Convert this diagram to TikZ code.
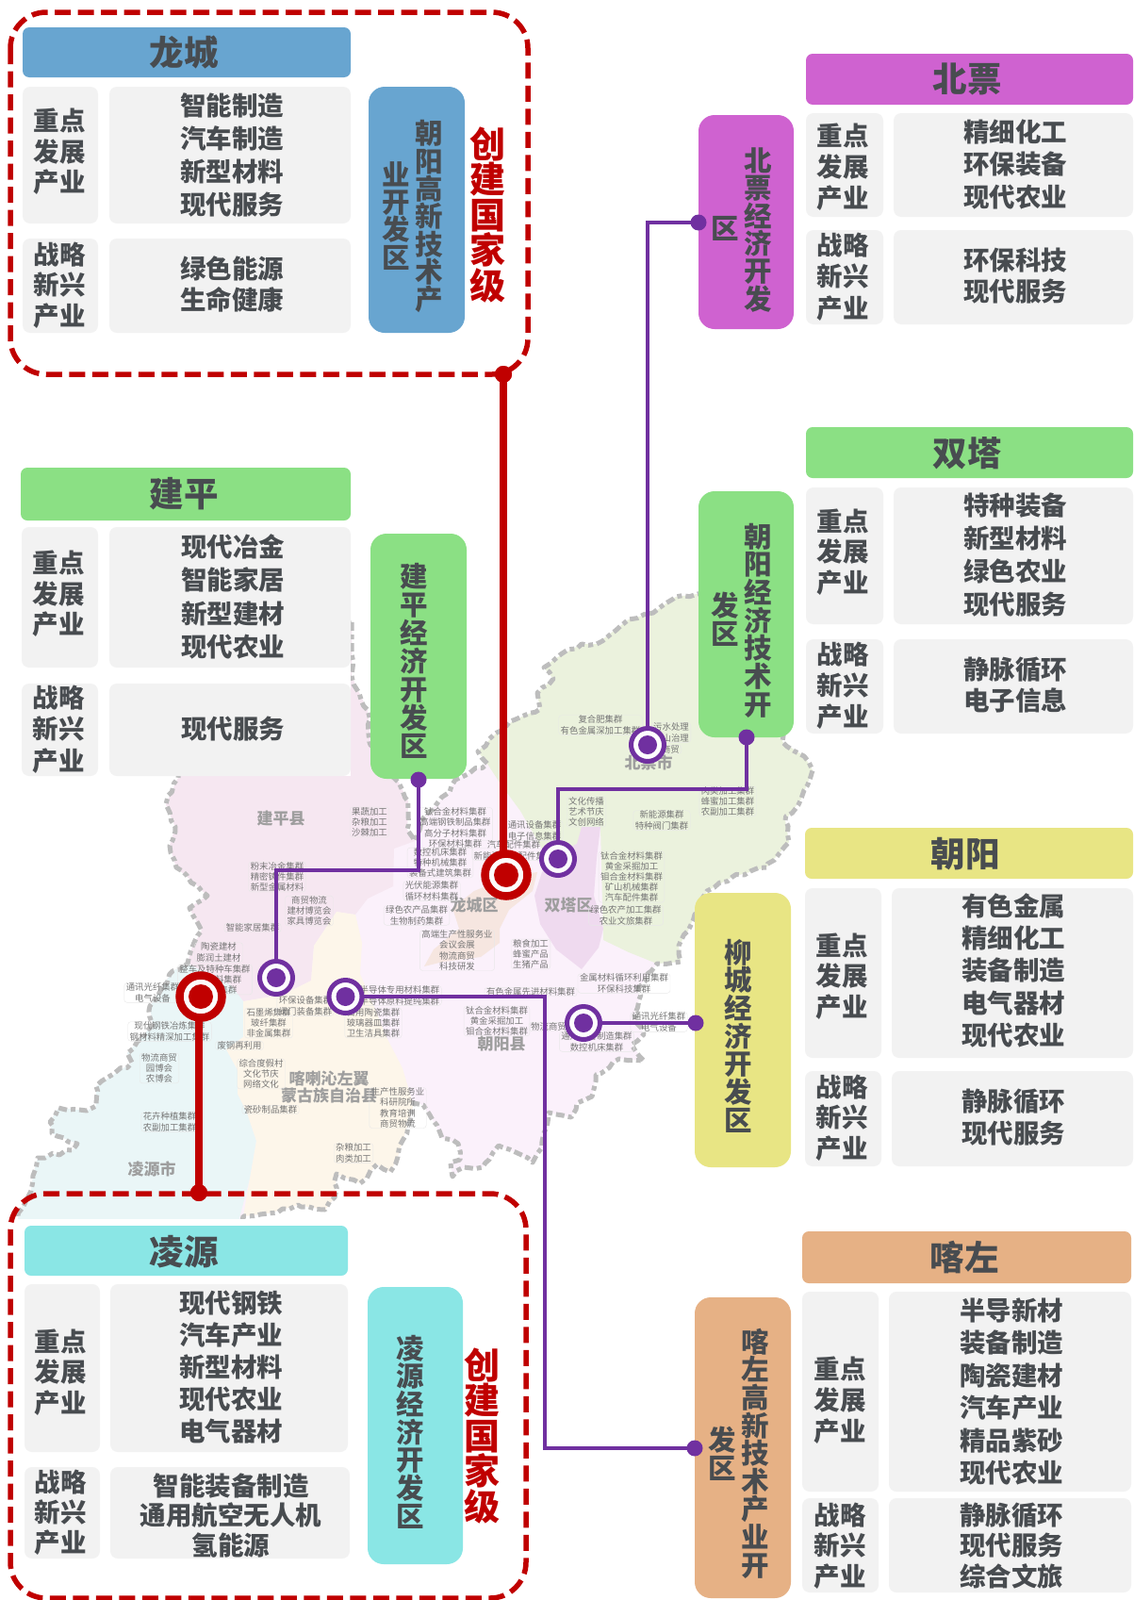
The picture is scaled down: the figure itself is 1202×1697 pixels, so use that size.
\documentclass[tikz,border=0pt]{standalone}
\usepackage{fontspec}
\setmainfont{Noto Sans CJK SC}
\usetikzlibrary{decorations.pathmorphing}
\lineskiplimit=-100pt
\definecolor{cBlue}{HTML}{68A5D0}
\definecolor{cGreen}{HTML}{8BE084}
\definecolor{cMag}{HTML}{CF62D0}
\definecolor{cYel}{HTML}{E8E584}
\definecolor{cOra}{HTML}{E6B185}
\definecolor{cCya}{HTML}{8AE6E5}
\definecolor{cBox}{HTML}{F2F2F2}
\definecolor{cRed}{HTML}{C00000}
\definecolor{cPur}{HTML}{7030A0}
\definecolor{cInk}{HTML}{484C50}
\definecolor{cMapLine}{HTML}{BDBDBD}
\definecolor{cChip}{HTML}{767676}
\definecolor{mBase}{HTML}{FBF1FB}
\definecolor{mJp}{HTML}{F6E7F1}
\definecolor{mBp}{HTML}{EBF2DD}
\definecolor{mLy}{HTML}{EAF6F7}
\definecolor{mKz}{HTML}{FDF6EA}
\definecolor{mLc}{HTML}{F6E6E0}
\definecolor{mSt}{HTML}{EFDAEF}
\tikzset{
  pbox/.style={rectangle,inner sep=0pt,outer sep=0pt,draw=none},
  hdrbox/.style={pbox,rounded corners=7pt},
  keybox/.style={pbox,fill=cBox,rounded corners=8pt},
  labbox/.style={pbox,rounded corners=17pt},
  txtbase/.style={inner sep=0pt,outer sep=0pt,align=center,text=cInk},
  hdrtxt/.style={txtbase,font=\bfseries\fontsize{36.5}{38}\selectfont},
  itm/.style={txtbase,font=\bfseries\fontsize{27.5}{#1}\selectfont},
  col/.style={txtbase,font=\bfseries\fontsize{29.5}{#1}\selectfont},
  redcol/.style={txtbase,text=cRed,font=\bfseries\fontsize{38}{37.5}\selectfont},
  chip/.style={rounded corners=3pt,draw=black!9,inner xsep=2pt,inner ysep=0pt,align=center,text=cChip,font=\fontsize{9.4}{11.2}\selectfont},
  place/.style={inner sep=0pt,align=center,text=black!38,font=\bfseries\fontsize{17}{18}\selectfont},
  dotp/.style={circle,fill=cPur,inner sep=0pt,outer sep=0pt,minimum size=17pt},
  dotr/.style={circle,fill=cRed,inner sep=0pt,outer sep=0pt,minimum size=18pt},
  ringp/.style={circle,draw=cPur,line width=5pt,fill=white!85!black!5,inner sep=0pt,outer sep=0pt,minimum size=35pt},
  coreP/.style={circle,fill=cPur,inner sep=0pt,outer sep=0pt,minimum size=20pt},
  ringr/.style={circle,draw=cRed,line width=8.5pt,fill=white!85!black!8,inner sep=0pt,outer sep=0pt,minimum size=45pt},
  coreR/.style={circle,fill=cRed,inner sep=0pt,outer sep=0pt,minimum size=26pt},
  purline/.style={draw=cPur,line width=4.5pt,line join=miter},
  redline/.style={draw=cRed,line width=8pt},
  reddash/.style={draw=cRed,line width=5.5pt,dash pattern=on 17pt off 7.5pt,rounded corners=38pt},
  mapline/.style={draw=cMapLine,line width=5pt,line join=round,dash pattern=on 9pt off 4pt on 5pt off 4pt,
    decorate,decoration={random steps,segment length=8pt,amplitude=2pt}}
}
\newcommand\bx[6]{%
  \pgfmathsetmacro\myW{#4-#2}\pgfmathsetmacro\myH{#5-#3}%
  \pgfmathsetmacro\myX{(#2+#4)/2}\pgfmathsetmacro\myY{(#3+#5)/2}%
  \node[#6,minimum width=\myW pt,minimum height=\myH pt] (#1) at (\myX,\myY) {};}
\newcommand\tx[5]{\node[#4] (#1) at (#2,#3) {\rule[-.12em]{0pt}{1em}#5\rule[-.12em]{0pt}{1em}};}
\newcommand\mapoutline{(373,660)--(373,717)--(381,735)--(390,753)--(393,790)--(423,830)--(433,850)--(432,880)--(440,892)--(447,870)--(463,853)--(477,840)--(483,827)--(517,810)--(507,797)--(527,777)--(547,763)--(573,752)--(570,735)--(587,720)--(577,708)--(590,698)--(617,683)--(633,683)--(667,657)--(693,650)--(717,633)--(740,630)--(760,625)--(830,760)--(830,787)--(853,802)--(862,817)--(850,847)--(833,870)--(837,893)--(813,920)--(777,930)--(750,945)--(737,970)--(730,987)--(720,1003)--(722,1020)--(697,1022)--(677,1048)--(678,1060)--(673,1077)--(683,1097)--(670,1108)--(683,1125)--(657,1123)--(632,1140)--(628,1163)--(612,1170)--(606,1185)--(582,1180)--(575,1217)--(565,1233)--(549,1223)--(529,1215)--(512,1238)--(492,1238)--(480,1248)--(478,1233)--(488,1230)--(486,1213)--(469,1207)--(459,1188)--(449,1172)--(439,1170)--(428,1208)--(422,1227)--(414,1243)--(400,1235)--(382,1255)--(357,1245)--(355,1270)--(345,1283)--(316,1278)--(284,1287)--(258,1290)--(250,1312)--(19,1312)--(19,1287)--(33,1263)--(35,1247)--(40,1228)--(77,1220)--(82,1213)--(55,1202)--(53,1190)--(62,1175)--(92,1178)--(102,1173)--(102,1152)--(140,1127)--(135,1117)--(162,1087)--(159,1067)--(183,1030)--(199,1022)--(203,1007)--(214,987)--(201,963)--(220,950)--(210,940)--(187,920)--(180,897)--(186,877)--(176,853)--(189,825)--(186,700)--cycle}
\begin{document}
\begin{tikzpicture}[x=1pt,y=-1pt]
\useasboundingbox (0,0) rectangle (1202,1697);
\fill[white] (0,0) rectangle (1202,1697);
% ---------- map
\fill[mBase] \mapoutline;
\fill[mBp] (517,810)--(507,797)--(527,777)--(547,763)--(573,752)--(570,735)--(587,720)--(577,708)--(590,698)--(617,683)--(633,683)--(667,657)--(693,650)--(717,633)--(740,630)--(760,625)--(830,760)--(830,787)--(853,802)--(862,817)--(850,847)--(833,870)--(837,893)--(813,920)--(777,930)--(750,945)--(737,970)--(730,987)--(720,1003)--(722,1020)--(697,1022)--(667,1010)--(640,997)--(637,877)--(612,895)--(590,905)--(575,900)--(552,860)--(530,830)--cycle;
\fill[mJp] (373,660)--(373,717)--(381,735)--(390,753)--(393,790)--(423,830)--(433,850)--(432,880)--(440,892)--(418,900)--(417,940)--(390,953)--(377,970)--(357,967)--(333,1003)--(330,1040)--(300,1055)--(258,1062)--(245,1045)--(199,1022)--(203,1007)--(214,987)--(201,963)--(220,950)--(210,940)--(187,920)--(180,897)--(186,877)--(176,853)--(189,825)--(186,700)--cycle;
\fill[mLy] (183,1030)--(199,1022)--(245,1045)--(258,1062)--(258,1100)--(240,1113)--(252,1135)--(252,1160)--(262,1180)--(272,1210)--(265,1250)--(255,1288)--(250,1312)--(19,1312)--(19,1287)--(33,1263)--(35,1247)--(40,1228)--(77,1220)--(82,1213)--(55,1202)--(53,1190)--(62,1175)--(92,1178)--(102,1173)--(102,1152)--(140,1127)--(135,1117)--(162,1087)--(159,1067)--cycle;
\fill[mKz] (258,1062)--(300,1055)--(330,1040)--(333,1003)--(357,967)--(377,970)--(384,1000)--(382,1033)--(402,1080)--(410,1100)--(427,1133)--(437,1167)--(439,1170)--(428,1208)--(422,1227)--(414,1243)--(400,1235)--(382,1255)--(357,1245)--(355,1270)--(345,1283)--(316,1278)--(284,1287)--(258,1290)--(265,1250)--(272,1210)--(262,1180)--(252,1160)--(252,1135)--(240,1113)--(258,1100)--cycle;
\fill[mLc] (450,1025)--(460,1007)--(487,985)--(480,963)--(503,945)--(540,930)--(570,925)--(565,945)--(540,965)--(530,985)--(530,1000)--(510,1015)--(470,1020)--cycle;
\fill[mSt] (617,877)--(637,877)--(633,910)--(630,950)--(640,985)--(635,1005)--(617,1028)--(590,1007)--(573,980)--(567,950)--(575,925)--(590,905)--(612,895)--cycle;
\draw[mapline] \mapoutline;
% ---------- map labels
\tx{pl-jp}{298}{868}{place}{建平县}
\tx{pl-lc}{503}{960}{place}{龙城区}
\tx{pl-st}{603}{960}{place}{双塔区}
\tx{pl-bp}{688}{809}{place}{北票市}
\tx{pl-cy}{532}{1107}{place}{朝阳县}
\tx{pl-ly}{161}{1240}{place}{凌源市}
\tx{pl-kz}{349}{1153}{place}{喀喇沁左翼\\蒙古族自治县}
\tx{c01}{392}{872}{chip}{果蔬加工\\杂粮加工\\沙棘加工}
\tx{c02}{483}{878}{chip}{钛合金材料集群\\高端钢铁制品集群\\高分子材料集群\\环保材料集群}
\tx{c03}{467}{915}{chip}{数控机床集群\\特种机械集群\\装备式建筑集群}
\tx{c04}{458}{945}{chip}{光伏能源集群\\循环材料集群}
\tx{c05}{442}{971}{chip}{绿色农产品集群\\生物制药集群}
\tx{c06}{485}{1008}{chip}{高端生产性服务业\\会议会展\\物流商贸\\科技研发}
\tx{c07}{563}{1012}{chip}{粮食加工\\蜂蜜产品\\生猪产品}
\tx{c08}{294}{930}{chip}{粉末冶金集群\\精密铸件集群\\新型金属材料}
\tx{c09}{328}{966}{chip}{商贸物流\\建材博览会\\家具博览会}
\tx{c10}{268}{984}{chip}{智能家居集群}
\tx{c11}{232}{1010}{chip}{陶瓷建材\\膨润土建材}
\tx{c12}{228}{1039}{chip}{整车及特种车集群\\新型材料集群\\新能源集群}
\tx{c13}{162}{1053}{chip}{通讯光纤集群\\电气设备}
\tx{c14}{180}{1094}{chip}{现代钢铁冶炼集群\\钢材料精深加工集群}
\tx{c15}{169}{1133}{chip}{物流商贸\\园博会\\农博会}
\tx{c16}{180}{1190}{chip}{花卉种植集群\\农副加工集群}
\tx{c17}{285}{1085}{chip}{石墨烯集群\\玻纤集群\\非金属集群}
\tx{c18}{254}{1109}{chip}{废钢再利用}
\tx{c19}{277}{1139}{chip}{综合度假村\\文化节庆\\网络文化}
\tx{c20}{287}{1177}{chip}{瓷砂制品集群}
\tx{c21}{324}{1067}{chip}{环保设备集群\\阀门装备集群}
\tx{c22}{424}{1056}{chip}{半导体专用材料集群\\半导体原料提纯集群}
\tx{c23}{396}{1085}{chip}{日用陶瓷集群\\玻璃器皿集群\\卫生洁具集群}
\tx{c24}{563}{1052}{chip}{有色金属先进材料集群}
\tx{c25}{527}{1083}{chip}{钛合金材料集群\\黄金采掘加工\\钼合金材料集群}
\tx{c26}{582}{1089}{chip}{物流商贸}
\tx{c27}{633}{1105}{chip}{通用设备制造集群\\数控机床集群}
\tx{c28}{662}{1043}{chip}{金属材料循环利用集群\\环保科技集群}
\tx{c29}{699}{1084}{chip}{通讯光纤集群\\电气设备}
\tx{c30}{375}{1223}{chip}{杂粮加工\\肉类加工}
\tx{c31}{422}{1175}{chip}{生产性服务业\\科研院所\\教育培训\\商贸物流}
\tx{c32}{637}{769}{chip}{复合肥集群\\有色金属深加工集群}
\tx{c33}{712}{777}{chip}{污水处理\\矿山治理}
\tx{c34}{702}{795}{chip}{文旅商贸}
\tx{c35}{622}{861}{chip}{文化传播\\艺术节庆\\文创网络}
\tx{c36}{567}{881}{chip}{通讯设备集群\\电子信息集群}
\tx{c37}{545}{902}{chip}{汽车配件集群\\新能源汽车配件集群}
\tx{c38}{772}{850}{chip}{肉类加工集群\\蜂蜜加工集群\\农副加工集群}
\tx{c39}{702}{870}{chip}{新能源集群\\特种阀门集群}
\tx{c40}{670}{930}{chip}{钛合金材料集群\\黄金采掘加工\\钼合金材料集群\\矿山机械集群\\汽车配件集群}
\tx{c41}{664}{971}{chip}{绿色农产加工集群\\农业文旅集群}
% ---------- panel backgrounds that hide the map
\fill[white] (0,490) rectangle (372,823);
\fill[white] (0,1293) rectangle (376,1697);
% ---------- Longcheng
\bx{lc-h}{24}{29}{372}{82}{hdrbox,fill=cBlue}
\tx{lc-ht}{195}{56}{hdrtxt}{龙城}
\bx{lc-k1}{24}{92}{104}{237}{keybox}
\bx{lc-v1}{116}{92}{372}{237}{keybox}
\bx{lc-k2}{24}{253}{104}{353}{keybox}
\bx{lc-v2}{116}{253}{372}{353}{keybox}
\tx{lc-k1t}{63}{161}{itm=32.5}{重点\\发展\\产业}
\tx{lc-v1t}{246}{164.5}{itm=35}{智能制造\\汽车制造\\新型材料\\现代服务}
\tx{lc-k2t}{63}{302.5}{itm=32.5}{战略\\新兴\\产业}
\tx{lc-v2t}{246}{301.5}{itm=33}{绿色能源\\生命健康}
\bx{lc-l}{391}{92}{493}{353}{labbox,fill=cBlue}
\tx{lc-c1}{455}{229.5}{col=29.3}{朝\\阳\\高\\新\\技\\术\\产}
\tx{lc-c2}{420}{229}{col=29.3}{业\\开\\发\\区}
\tx{lc-r}{517}{228}{redcol}{创\\建\\国\\家\\级}
% ---------- Jianping
\bx{jp-h}{22}{496}{372}{552}{hdrbox,fill=cGreen}
\tx{jp-ht}{195}{524}{hdrtxt}{建平}
\bx{jp-k1}{23}{559}{104}{708}{keybox}
\bx{jp-v1}{116}{559}{372}{708}{keybox}
\bx{jp-k2}{23}{725}{104}{823}{keybox}
\bx{jp-v2}{116}{725}{372}{823}{keybox}
\tx{jp-k1t}{62}{630}{itm=32.5}{重点\\发展\\产业}
\tx{jp-v1t}{247}{633}{itm=35.3}{现代冶金\\智能家居\\新型建材\\现代农业}
\tx{jp-k2t}{62}{773.5}{itm=33.5}{战略\\新兴\\产业}
\tx{jp-v2t}{247}{773}{itm=33}{现代服务}
\bx{jp-l}{393}{566}{495}{826}{labbox,fill=cGreen}
\tx{jp-c1}{439}{701.5}{col=30}{建\\平\\经\\济\\开\\发\\区}
% ---------- Lingyuan
\bx{ly-h}{26}{1300}{369}{1353}{hdrbox,fill=cCya}
\tx{ly-ht}{195}{1328}{hdrtxt}{凌源}
\bx{ly-k1}{26}{1362}{106}{1540}{keybox}
\bx{ly-v1}{117}{1362}{369}{1540}{keybox}
\bx{ly-k2}{26}{1556}{106}{1653}{keybox}
\bx{ly-v2}{117}{1556}{371}{1653}{keybox}
\tx{ly-k1t}{64}{1455.5}{itm=32.5}{重点\\发展\\产业}
\tx{ly-v1t}{245}{1450}{itm=34}{现代钢铁\\汽车产业\\新型材料\\现代农业\\电气器材}
\tx{ly-k2t}{64}{1604}{itm=32}{战略\\新兴\\产业}
\tx{ly-v2t}{245}{1607.5}{itm=31.5}{智能装备制造\\通用航空无人机\\氢能源}
\bx{ly-l}{390}{1365}{491}{1659}{labbox,fill=cCya}
\tx{ly-c1}{435.5}{1519}{col=29.7}{凌\\源\\经\\济\\开\\发\\区}
\tx{ly-r}{511}{1523}{redcol}{创\\建\\国\\家\\级}
% ---------- Beipiao
\bx{bp-h}{855}{57}{1202}{111}{hdrbox,fill=cMag}
\tx{bp-ht}{1026}{84}{hdrtxt}{北票}
\bx{bp-k1}{855}{120}{937}{230}{keybox}
\bx{bp-v1}{948}{120}{1202}{230}{keybox}
\bx{bp-k2}{855}{244}{937}{344}{keybox}
\bx{bp-v2}{948}{244}{1202}{344}{keybox}
\tx{bp-k1t}{894}{177}{itm=33}{重点\\发展\\产业}
\tx{bp-v1t}{1077}{174.5}{itm=34.5}{精细化工\\环保装备\\现代农业}
\tx{bp-k2t}{894}{293.5}{itm=33.5}{战略\\新兴\\产业}
\tx{bp-v2t}{1077}{292.5}{itm=33}{环保科技\\现代服务}
\bx{bp-l}{741}{122}{842}{349}{labbox,fill=cMag}
\tx{bp-c1}{804}{243.5}{col=29.4}{北\\票\\经\\济\\开\\发}
\tx{bp-c2}{769}{242}{col=29.4}{区}
% ---------- Shuangta
\bx{st-h}{855}{453}{1202}{507}{hdrbox,fill=cGreen}
\tx{st-ht}{1026}{481}{hdrtxt}{双塔}
\bx{st-k1}{855}{517}{937}{662}{keybox}
\bx{st-v1}{948}{517}{1202}{662}{keybox}
\bx{st-k2}{855}{678}{937}{778}{keybox}
\bx{st-v2}{948}{678}{1202}{778}{keybox}
\tx{st-k1t}{894}{585.5}{itm=32.5}{重点\\发展\\产业}
\tx{st-v1t}{1077}{588.5}{itm=35}{特种装备\\新型材料\\绿色农业\\现代服务}
\tx{st-k2t}{894}{727}{itm=33}{战略\\新兴\\产业}
\tx{st-v2t}{1077}{726.5}{itm=33}{静脉循环\\电子信息}
\bx{st-l}{741}{521}{842}{782}{labbox,fill=cGreen}
\tx{st-c1}{804}{658}{col=29.7}{朝\\阳\\经\\济\\技\\术\\开}
\tx{st-c2}{769}{657.5}{col=29.7}{发\\区}
% ---------- Chaoyang
\bx{cy-h}{854}{878}{1202}{932}{hdrbox,fill=cYel}
\tx{cy-ht}{1024}{906}{hdrtxt}{朝阳}
\bx{cy-k1}{854}{942}{935}{1122}{keybox}
\bx{cy-v1}{946}{942}{1202}{1122}{keybox}
\bx{cy-k2}{854}{1136}{935}{1237}{keybox}
\bx{cy-v2}{946}{1136}{1202}{1237}{keybox}
\tx{cy-k1t}{893}{1035.5}{itm=32.5}{重点\\发展\\产业}
\tx{cy-v1t}{1075}{1029.5}{itm=34.3}{有色金属\\精细化工\\装备制造\\电气器材\\现代农业}
\tx{cy-k2t}{893}{1185.5}{itm=32.5}{战略\\新兴\\产业}
\tx{cy-v2t}{1075}{1185}{itm=33.5}{静脉循环\\现代服务}
\bx{cy-l}{737}{947}{839}{1238}{labbox,fill=cYel}
\tx{cy-c1}{783}{1099}{col=29.7}{柳\\城\\经\\济\\开\\发\\区}
% ---------- Kazuo
\bx{kz-h}{851}{1306}{1200}{1361}{hdrbox,fill=cOra}
\tx{kz-ht}{1023}{1334}{hdrtxt}{喀左}
\bx{kz-k1}{851}{1370}{932}{1582}{keybox}
\bx{kz-v1}{943}{1370}{1200}{1582}{keybox}
\bx{kz-k2}{851}{1589}{932}{1689}{keybox}
\bx{kz-v2}{943}{1589}{1200}{1689}{keybox}
\tx{kz-k1t}{891}{1485}{itm=33}{重点\\发展\\产业}
\tx{kz-v1t}{1073}{1476}{itm=34.4}{半导新材\\装备制造\\陶瓷建材\\汽车产业\\精品紫砂\\现代农业}
\tx{kz-k2t}{891}{1639.5}{itm=32.5}{战略\\新兴\\产业}
\tx{kz-v2t}{1073}{1639.5}{itm=32.5}{静脉循环\\现代服务\\综合文旅}
\bx{kz-l}{737}{1376}{839}{1695}{labbox,fill=cOra}
\tx{kz-c1}{801}{1541.5}{col=29.6}{喀\\左\\高\\新\\技\\术\\产\\业\\开}
\tx{kz-c2}{766}{1542}{col=29.6}{发\\区}
% ---------- connectors
\node[dotp] (d-bp) at (741,236) {};
\node[dotp] (d-st) at (792,782) {};
\node[dotp] (d-jp) at (444,827) {};
\node[dotp] (d-kz) at (737,1536) {};
\node[dotp] (d-cy) at (738,1085) {};
\node[dotr] (d-lc) at (534,397) {};
\node[dotr] (d-ly) at (211,1265) {};
\coordinate (m-st) at (792,837);
\coordinate (m-jp) at (444,923);
\coordinate (m-kz) at (578,1057);
\node[ringp] (r-bp) at (687,790) {};
\node[ringp] (r-st) at (592,911) {};
\node[ringp] (r-jp) at (293,1037) {};
\node[ringp] (r-kz) at (366.5,1057) {};
\node[ringp] (r-cy) at (619,1085) {};
\node[ringr] (r-lc) at (537,928) {};
\node[ringr] (r-ly) at (213,1057) {};
\draw[purline] (r-bp) |- (d-bp.center);
\draw[purline] (r-st) |- (m-st) -- (d-st.center);
\draw[purline] (r-jp) |- (m-jp) -- (d-jp.center);
\draw[purline] (r-kz) -- (m-kz) |- (d-kz.center);
\draw[purline] (r-cy) -- (d-cy.center);
\draw[redline] (d-lc.center) -- (534,928 |- r-lc.north);
\draw[redline] (d-ly.center) -- (d-ly.center |- r-ly.south);
\node[coreP] (k-bp) at (r-bp) {};
\node[coreP] (k-st) at (r-st) {};
\node[coreP] (k-jp) at (r-jp) {};
\node[coreP] (k-kz) at (r-kz) {};
\node[coreP] (k-cy) at (r-cy) {};
\node[coreR] (k-lc) at (r-lc) {};
\node[coreR] (k-ly) at (r-ly) {};
% ---------- dashed frames
\draw[reddash] (11,13) rectangle (560,397);
\draw[reddash] (11,1266) rectangle (558,1695);
\node[dotr] (d-lc2) at (d-lc) {};
\node[dotr] (d-ly2) at (d-ly) {};
\end{tikzpicture}
\end{document}
